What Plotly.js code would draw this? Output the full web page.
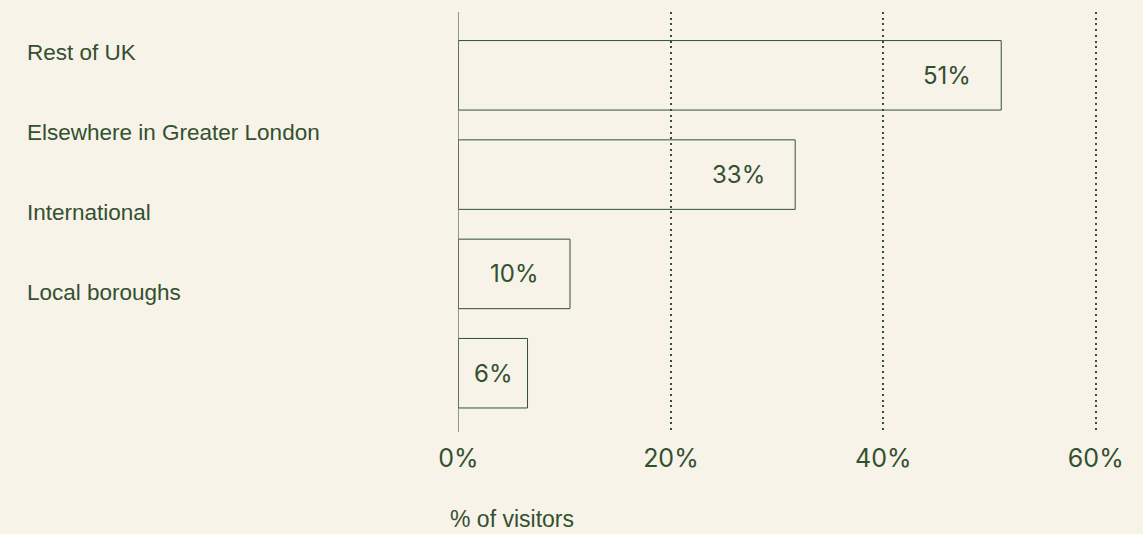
<!DOCTYPE html>
<html>
<head>
<meta charset="utf-8">
<script src="https://cdn.plot.ly/plotly-3.0.1.min.js"></script>
<style>
  html, body { margin: 0; padding: 0; background: #f7f3e9; }
  #chart { width: 1143px; height: 534px; }
</style>
</head>
<body>
<div id="chart"></div>
<script>
// ---- data ----
const categories = ['Rest of UK', 'Elsewhere in Greater London', 'International', 'Local boroughs'];
const shares = [51.1, 31.7, 10.5, 6.5];          // bar lengths (%)
const shareLabels = ['51%', '33%', '10%', '6%'];  // printed labels
const tickValues = [0, 20, 40, 60];
const tickLabels = ['0%', '20%', '40%', '60%'];
const axisTitle = '% of visitors';

// ---- style ----
const BG = '#f7f3e9';
const INK = '#33502f';
const AXIS = '#8d9c88';
const LABEL_FONT = 'Liberation Sans, Arial, sans-serif';
const NUM_FONT = 'Inter, DejaVu Sans, sans-serif';

const barTrace = {
  type: 'bar',
  orientation: 'h',
  x: shares,
  y: categories,
  width: 0.7,
  marker: { color: 'rgba(0,0,0,0)', line: { color: INK, width: 1 } },
  hoverinfo: 'skip',
  showlegend: false,
  xaxis: 'x',
  yaxis: 'y'
};

// invisible helper trace so the category-label axis (y2) is built
const labelAxisTrace = {
  type: 'scatter',
  mode: 'markers',
  x: categories.map(() => null),
  y: categories.map((c, i) => i),
  marker: { opacity: 0 },
  hoverinfo: 'skip',
  showlegend: false,
  xaxis: 'x',
  yaxis: 'y2'
};

const annotations = shares.map((v, i) => {
  const wide = v > 20;
  return {
    xref: 'x', yref: 'y',
    x: wide ? v : v / 2,
    y: categories[i],
    xanchor: wide ? 'right' : 'center',
    xshift: wide ? -28 : 0,
    yanchor: 'middle',
    text: shareLabels[i],
    showarrow: false,
    font: { family: NUM_FONT, size: 24, color: INK }
  };
});

annotations.push({
  xref: 'x', yref: 'paper',
  x: 0, y: 0,
  xanchor: 'left', yanchor: 'middle',
  xshift: -10, yshift: -87,
  text: axisTitle,
  showarrow: false,
  font: { family: LABEL_FONT, size: 23, color: INK }
});

const layout = {
  width: 1143,
  height: 534,
  paper_bgcolor: BG,
  plot_bgcolor: BG,
  margin: { l: 18, r: 26, t: 12, b: 102 },
  showlegend: false,
  xaxis: {
    domain: [0.4008, 1],
    range: [0, 62],
    tickmode: 'array',
    tickvals: tickValues,
    ticktext: tickLabels,
    ticks: '',
    showline: false,
    showgrid: true,
    gridcolor: INK,
    gridwidth: 2,
    griddash: '2px,3.7px',
    zeroline: true,
    zerolinecolor: AXIS,
    zerolinewidth: 1.5,
    tickfont: { family: NUM_FONT, size: 25, color: INK },
    ticklabelstandoff: 9,
    fixedrange: true
  },
  yaxis: {
    type: 'category',
    categoryorder: 'array',
    categoryarray: categories,
    range: [3.592, -0.6375],
    showticklabels: false,
    ticks: '',
    showgrid: false,
    zeroline: false,
    showline: false,
    fixedrange: true
  },
  yaxis2: {
    overlaying: 'y',
    anchor: 'free',
    position: 0,
    side: 'right',
    type: 'linear',
    range: [4.75, -0.5],
    tickmode: 'array',
    tickvals: categories.map((c, i) => i),
    ticktext: categories,
    ticks: '',
    showgrid: false,
    zeroline: false,
    showline: false,
    ticklabelstandoff: 8,
    tickfont: { family: LABEL_FONT, size: 22.5, color: INK },
    fixedrange: true
  },
  annotations: annotations
};

Plotly.newPlot('chart', [barTrace, labelAxisTrace], layout, { displayModeBar: false, staticPlot: true });
</script>
</body>
</html>
